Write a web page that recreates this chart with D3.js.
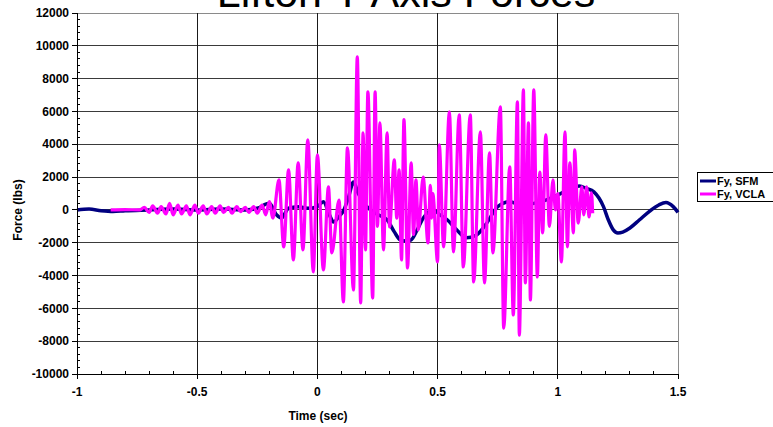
<!DOCTYPE html>
<html>
<head>
<meta charset="utf-8">
<script src="https://cdn.jsdelivr.net/npm/d3@7"></script>
<style>
  html, body { margin: 0; padding: 0; background: #fff; }
  svg { display: block; font-family: "Liberation Sans", Arial, sans-serif; }
</style>
</head>
<body>
<svg id="chart" width="773" height="427"></svg>
<script>
// Series: time (sec) and force (lbs) for the two measurement sources
const sfmTime = [-1, -0.95, -0.9, -0.85, -0.8, -0.7, -0.6, -0.5, -0.4, -0.3, -0.25, -0.2, -0.17, -0.15, -0.12, -0.08, -0.04, 0, 0.025, 0.05, 0.067, 0.09, 0.11, 0.13, 0.15, 0.17, 0.2, 0.24, 0.29, 0.32, 0.345, 0.37, 0.39, 0.415, 0.44, 0.48, 0.51, 0.54, 0.58, 0.62, 0.66, 0.7, 0.75, 0.8, 0.85, 0.9, 0.95, 1.0, 1.05, 1.09, 1.12, 1.15, 1.19, 1.21, 1.23, 1.25, 1.27, 1.3, 1.34, 1.38, 1.42, 1.45, 1.48, 1.5];
const sfmForce = [0, 50, -50, -100, -50, 0, 50, 0, 50, 0, 100, 400, -300, -500, 100, 200, 100, 200, 500, -300, -730, -400, 0, 800, 1700, 1000, 300, -200, -600, -1340, -1830, -1900, -1830, -1220, -500, 0, -300, -600, -1220, -1700, -1550, -900, 200, 500, 300, 400, 600, 900, 1300, 1450, 1300, 1100, 200, -600, -1200, -1400, -1350, -1100, -600, -100, 300, 450, 200, -150];

const vclaTime = [-0.86, -0.8, -0.74, -0.72, -0.7, -0.685, -0.665, -0.65, -0.63, -0.615, -0.6, -0.58, -0.565, -0.545, -0.53, -0.51, -0.495, -0.475, -0.46, -0.44, -0.425, -0.405, -0.39, -0.37, -0.355, -0.335, -0.32, -0.3, -0.285, -0.265, -0.25, -0.23, -0.215, -0.2, -0.185, -0.16, -0.14, -0.12, -0.1, -0.08, -0.06, -0.04, -0.017, 0, 0.025, 0.046, 0.06, 0.09, 0.108, 0.125, 0.15, 0.166, 0.18, 0.19, 0.2, 0.21, 0.23, 0.24, 0.25, 0.26, 0.275, 0.29, 0.3, 0.32, 0.33, 0.34, 0.35, 0.36, 0.375, 0.39, 0.4, 0.41, 0.42, 0.44, 0.46, 0.47, 0.475, 0.48, 0.5, 0.507, 0.525, 0.549, 0.566, 0.59, 0.607, 0.636, 0.65, 0.678, 0.695, 0.716, 0.73, 0.761, 0.775, 0.8, 0.815, 0.832, 0.84, 0.857, 0.865, 0.878, 0.886, 0.9, 0.915, 0.925, 0.937, 0.95, 0.965, 0.98, 0.99, 1.0, 1.015, 1.03, 1.04, 1.05, 1.065, 1.07, 1.085, 1.1, 1.108, 1.12, 1.13, 1.14, 1.145];
const vclaForce = [0, 20, 0, 150, -150, 250, -200, 200, -250, 400, -300, 300, -250, 250, -300, 300, -200, 250, -250, 200, -200, 250, -150, 150, -200, 200, -100, 150, -150, 200, -200, 300, -300, 500, -500, 1830, -2250, 2440, -3050, 2870, -2440, 4270, -3780, 3350, -3660, 1400, -2620, 600, -5610, 3780, -4880, 9330, -5670, 4700, -2440, 7200, -5370, 7200, -1000, 5300, -2440, 4700, -1040, 3050, -500, 2440, -3050, 5500, -3540, 2870, -1500, 1830, -1220, 2000, -2010, 1500, -500, 1000, -3170, 3960, -2250, 5970, -2560, 5800, -3480, 5800, -4390, 4760, -4450, 3480, -2620, 6280, -7200, 2620, -6400, 6590, -7630, 7320, -4450, 5300, -5490, 7320, -4090, 2300, -1400, 4570, -1000, 1830, 0, 1000, -3170, 4760, -2250, 2870, -1400, 3660, -800, 1400, -300, 1400, -430, 1040, -200];

const seriesNames = ["Fy, SFM", "Fy, VCLA"];
const seriesColors = ["#000080", "#FF00FF"];

const xTicks = [-1, -0.5, 0, 0.5, 1, 1.5];
const yTicks = [-10000, -8000, -6000, -4000, -2000, 0, 2000, 4000, 6000, 8000, 10000, 12000];

const titleText = "Lifton Y Axis Forces";
const xLabel = "Time (sec)";
const yLabel = "Force (lbs)";

const svg = d3.select("#chart");
const plot = { left: 77, right: 678, top: 13, bottom: 374 };

const x = d3.scaleLinear().domain([-1, 1.5]).range([plot.left, plot.right]);
const y = d3.scaleLinear().domain([-10000, 12000]).range([plot.bottom, plot.top]);

// Title (sits mostly above the canvas edge)
svg.append("text")
  .attr("x", 406).attr("y", 7)
  .attr("text-anchor", "middle")
  .attr("font-size", 43)
  .attr("fill", "#000")
  .text(titleText);

// Horizontal gridlines
svg.append("g").selectAll("line")
  .data(yTicks.filter(d => d > -10000))
  .join("line")
  .attr("x1", plot.left).attr("x2", plot.right)
  .attr("y1", d => y(d)).attr("y2", d => y(d))
  .attr("stroke", d => d === 12000 ? "#8a8a8a" : "#3a3a3a")
  .attr("stroke-width", 1)
  .attr("shape-rendering", "crispEdges");

// Vertical gridlines
svg.append("g").selectAll("line")
  .data(xTicks.filter(d => d > -1))
  .join("line")
  .attr("x1", d => x(d)).attr("x2", d => x(d))
  .attr("y1", plot.top).attr("y2", plot.bottom)
  .attr("stroke", d => d === 1.5 ? "#8a8a8a" : "#1a1a1a")
  .attr("stroke-width", 1)
  .attr("shape-rendering", "crispEdges");

// Data lines
const line = d3.line()
  .x(d => x(d[0]))
  .y(d => y(d[1]))
  .curve(d3.curveMonotoneX);

const sfm = sfmTime.map((t, i) => [t, sfmForce[i]]);
const vcla = vclaTime.map((t, i) => [t, vclaForce[i]]);

svg.append("path")
  .datum(sfm)
  .attr("d", line)
  .attr("fill", "none")
  .attr("stroke", seriesColors[0])
  .attr("stroke-width", 3.5)
  .attr("stroke-linejoin", "round");

svg.append("path")
  .datum(vcla)
  .attr("d", line)
  .attr("fill", "none")
  .attr("stroke", seriesColors[1])
  .attr("stroke-width", 3.2)
  .attr("stroke-linejoin", "round");

// Y axis with outward major ticks and inward minor ticks
const yAxis = svg.append("g");
yAxis.append("line")
  .attr("x1", plot.left).attr("x2", plot.left)
  .attr("y1", plot.top).attr("y2", plot.bottom)
  .attr("stroke", "#000").attr("shape-rendering", "crispEdges");
yAxis.selectAll(".major").data(yTicks).join("line")
  .attr("x1", plot.left - 5).attr("x2", plot.left)
  .attr("y1", d => y(d)).attr("y2", d => y(d))
  .attr("stroke", "#000").attr("shape-rendering", "crispEdges");
yAxis.selectAll(".minor").data(d3.range(-10000, 12000, 400).filter(v => v % 2000 !== 0)).join("line")
  .attr("x1", plot.left).attr("x2", plot.left + 3)
  .attr("y1", d => y(d)).attr("y2", d => y(d))
  .attr("stroke", "#000").attr("shape-rendering", "crispEdges");
yAxis.selectAll("text").data(yTicks).join("text")
  .attr("x", plot.left - 8).attr("y", d => y(d))
  .attr("dy", "0.35em")
  .attr("text-anchor", "end")
  .attr("font-size", 12).attr("font-weight", "bold")
  .text(d => d);

// X axis with downward major ticks and upward minor ticks
const xAxis = svg.append("g");
xAxis.append("line")
  .attr("x1", plot.left).attr("x2", plot.right)
  .attr("y1", plot.bottom).attr("y2", plot.bottom)
  .attr("stroke", "#000").attr("shape-rendering", "crispEdges");
xAxis.selectAll(".major").data(xTicks).join("line")
  .attr("x1", d => x(d)).attr("x2", d => x(d))
  .attr("y1", plot.bottom).attr("y2", plot.bottom + 5)
  .attr("stroke", "#000").attr("shape-rendering", "crispEdges");
xAxis.selectAll(".minor").data(d3.range(-0.9, 1.5, 0.1).filter(v => Math.abs(v * 2 - Math.round(v * 2)) > 1e-6)).join("line")
  .attr("x1", d => x(d)).attr("x2", d => x(d))
  .attr("y1", plot.bottom - 3).attr("y2", plot.bottom)
  .attr("stroke", "#000").attr("shape-rendering", "crispEdges");
xAxis.selectAll("text").data(xTicks).join("text")
  .attr("x", d => x(d)).attr("y", plot.bottom + 22)
  .attr("text-anchor", "middle")
  .attr("font-size", 12).attr("font-weight", "bold")
  .text(d => d);

// Axis titles
svg.append("text")
  .attr("x", 318).attr("y", 420)
  .attr("text-anchor", "middle")
  .attr("font-size", 12).attr("font-weight", "bold")
  .text(xLabel);
svg.append("text")
  .attr("transform", "translate(22,210) rotate(-90)")
  .attr("text-anchor", "middle")
  .attr("font-size", 12).attr("font-weight", "bold")
  .text(yLabel);

// Legend
const legend = svg.append("g");
legend.append("rect")
  .attr("x", 697.5).attr("y", 172.5).attr("width", 80).attr("height", 29)
  .attr("fill", "#fff").attr("stroke", "#000");
seriesNames.forEach((name, i) => {
  const ly = 181 + i * 13;
  legend.append("line")
    .attr("x1", 700).attr("x2", 716)
    .attr("y1", ly).attr("y2", ly)
    .attr("stroke", seriesColors[i]).attr("stroke-width", 3);
  legend.append("text")
    .attr("x", 717).attr("y", ly)
    .attr("dy", "0.35em")
    .attr("font-size", 11).attr("font-weight", "bold")
    .text(name);
});
</script>
</body>
</html>
